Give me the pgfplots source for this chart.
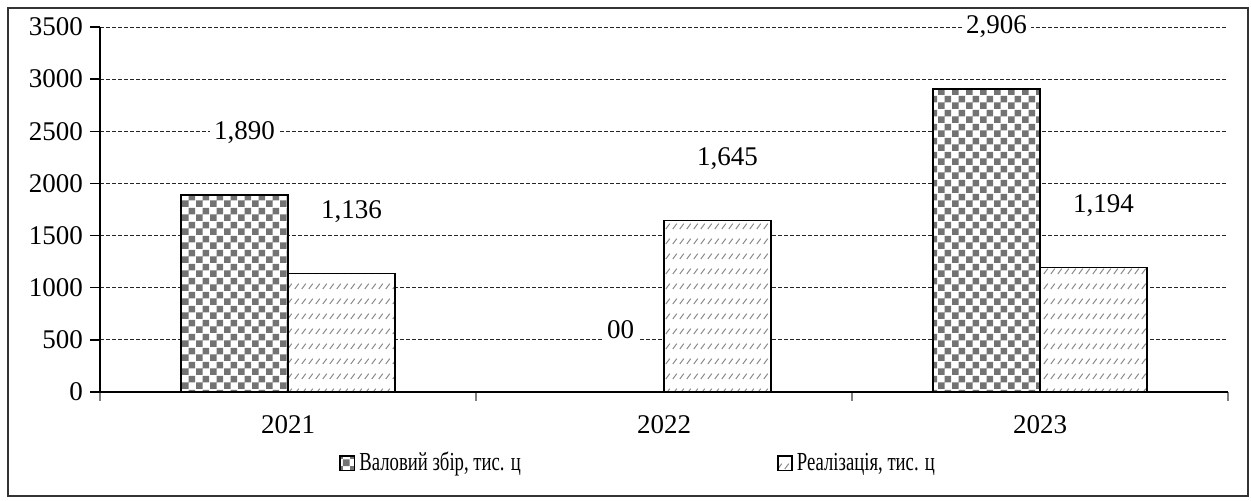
\documentclass[border=0pt]{standalone}
\usepackage{fontspec}
\setmainfont{Liberation Serif}
\newfontfamily\legfont{Liberation Serif}[FakeStretch=0.72]
\usepackage{pgfplots}
\pgfplotsset{compat=1.18}
\usetikzlibrary{patterns}

\pgfdeclarepatternformonly{checker}{\pgfpointorigin}{\pgfpoint{7pt}{7pt}}{\pgfpoint{7pt}{7pt}}{%
 \pgfpathrectangle{\pgfpointorigin}{\pgfpoint{3.5pt}{3.5pt}}%
 \pgfpathrectangle{\pgfpoint{3.5pt}{3.5pt}}{\pgfpoint{3.5pt}{3.5pt}}%
 \pgfusepath{fill}}
\pgfdeclarepatternformonly{dashhatch}{\pgfpoint{-0.5pt}{-0.5pt}}{\pgfpoint{4pt}{8pt}}{\pgfpoint{3.5pt}{7.5pt}}{%
 \pgfsetlinewidth{0.5pt}%
 \pgfpathmoveto{\pgfpoint{0.4pt}{0.5pt}}%
 \pgfpathlineto{\pgfpoint{2.4pt}{3.2pt}}%
 \pgfusepath{stroke}}

\begin{document}
\begin{tikzpicture}
\path[use as bounding box] (0,0) rectangle (625.5pt,250pt);
\draw[line width=0.8pt, black!80] (4pt,2pt) rectangle (624pt,246pt);
\begin{axis}[
 at={(50pt,54pt)}, anchor=south west,
 scale only axis, width=564pt, height=182.5pt,
 xmin=-0.5, xmax=2.5, ymin=0, ymax=3500,
 clip=false,
 axis lines*=left, axis line style={line width=0.7pt},
 ybar=0pt, bar width=53.5pt,
 xtick={0,1,2}, xticklabels={2021,2022,2023},
 major x tick style={draw=none},
 minor xtick={-0.5,0.5,1.5,2.5},
 minor x tick style={line width=0.7pt},
 minor tick length=4.5pt,
 major tick length=5pt,
 tick align=outside,
 ytick={0,500,...,3500},
 y tick style={line width=0.7pt, black},
 /pgf/number format/1000 sep={},
 /pgf/number format/assume math mode=true,
 ymajorgrids,
 grid style={dash pattern=on 2pt off 1pt, line width=0.5pt, black!85},
 y tick label style={font=\fontsize{13.5}{14}\selectfont},
 x tick label style={font=\fontsize{13.5}{14}\selectfont, yshift=-3pt},
 legend style={at={(0.478,-0.195)}, anchor=center, draw=none, legend columns=2,
   font=\legfont\fontsize{13}{14}\selectfont,
   /tikz/every even column/.append style={column sep=126pt}},
 legend image code/.code={\draw[#1] (0pt,-3.6pt) rectangle (7.2pt,3.6pt);},
 nodes near coords, point meta=explicit symbolic,
 every node near coord/.append style={font=\fontsize{13.5}{14}\selectfont, fill=white, anchor=center, yshift=31pt, xshift=5pt, inner sep=2pt},
]
\addplot[draw=black, line width=0.8pt, fill=white, postaction={pattern=checker, pattern color=black!55}]
 coordinates {(0,1890)[1{,}890] (1,0)[00] (2,2906)[2{,}906]};
\addlegendentry{Валовий збір, тис. ц}
\addplot[draw=black, line width=0.8pt, fill=white, postaction={pattern=dashhatch, pattern color=black!45}]
 coordinates {(0,1136)[1{,}136] (1,1645)[1{,}645] (2,1194)[1{,}194]};
\addlegendentry{Реалізація, тис. ц}
\end{axis}
\end{tikzpicture}
\end{document}
